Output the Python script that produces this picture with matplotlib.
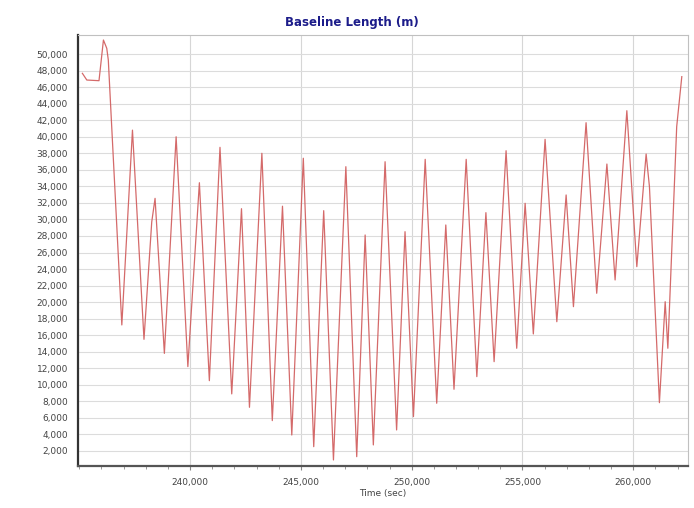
import matplotlib.pyplot as plt
from matplotlib.ticker import FuncFormatter, MultipleLocator

# time (sec) and baseline length (m)
time_sec = [235140, 235340, 235890, 236090, 236240, 236310, 236920, 237400,
            237920, 238270, 238420, 238840, 239370, 239900, 240420, 240870,
            241350, 241880, 242320, 242680, 243240, 243710, 244170, 244590,
            245110, 245580, 246030, 246470, 247030, 247520, 247900, 248270,
            248800, 249320, 249700, 250080, 250610, 251130, 251540, 251910,
            252460, 252940, 253350, 253720, 254260, 254740, 255120, 255490,
            256020, 256550, 256970, 257300, 257870, 258350, 258810, 259180,
            259710, 260160, 260580, 260730, 261180, 261440, 261560, 261960,
            262190]
baseline_m = [47670, 46860, 46780, 51700, 50700, 49280, 17240, 40800,
              15500, 29700, 32550, 13800, 40000, 12200, 34440, 10500,
              38720, 8900, 31300, 7280, 38000, 5670, 31600, 3930,
              37400, 2520, 31060, 910, 36380, 1310, 28120, 2730,
              36980, 4540, 28520, 6150, 37270, 7770, 29330, 9460,
              37270, 10990, 30820, 12800, 38310, 14420, 31950, 16150,
              39690, 17630, 32960, 19450, 41700, 21070, 36700, 22680,
              43150, 24290, 37910, 33960, 7840, 20050, 14420, 41230,
              47270]

x_ticks = [240000, 245000, 250000, 255000, 260000]
y_ticks = list(range(2000, 50001, 2000))

fig = plt.figure(figsize=(6.94, 5.08), dpi=100)
ax = fig.add_axes([0.112, 0.083, 0.880, 0.848])

ax.plot(time_sec, baseline_m, color='#d05a5a', linewidth=0.9, alpha=0.9)

ax.set_xlim(234930, 262490)
ax.set_ylim(200, 52300)

ax.set_xticks(x_ticks)
ax.set_yticks(y_ticks)
ax.xaxis.set_minor_locator(MultipleLocator(1000))
comma = FuncFormatter(lambda v, p: f"{int(v):,}")
ax.xaxis.set_major_formatter(comma)
ax.yaxis.set_major_formatter(comma)

ax.tick_params(axis='y', length=0, pad=7, labelsize=6.5, labelcolor='#444444')
ax.tick_params(axis='x', which='major', length=3, pad=6, labelsize=6.5,
               labelcolor='#444444', color='#888888')
ax.tick_params(axis='x', which='minor', length=2, color='#888888')

# grid: horizontal at every y tick, vertical only at major x ticks
ax.grid(True, axis='y', color='#dcdcdc', linewidth=0.8)
ax.grid(True, axis='x', which='major', color='#d6d6d6', linewidth=0.8)
ax.set_axisbelow(True)

ax.spines['left'].set_color('#333333')
ax.spines['left'].set_linewidth(1.6)
ax.spines['bottom'].set_color('#555555')
ax.spines['bottom'].set_linewidth(1.6)
ax.spines['top'].set_color('#c0c0c0')
ax.spines['right'].set_color('#c0c0c0')

ax.set_xlabel("Time (sec)", fontsize=6.5, color='#444444', labelpad=1)
fig.text(0.507, 0.955, "Baseline Length (m)", ha='center', va='center',
         fontsize=8.5, fontweight='bold', color='#1c1c8a')

fig.savefig("out.png", dpi=100)
